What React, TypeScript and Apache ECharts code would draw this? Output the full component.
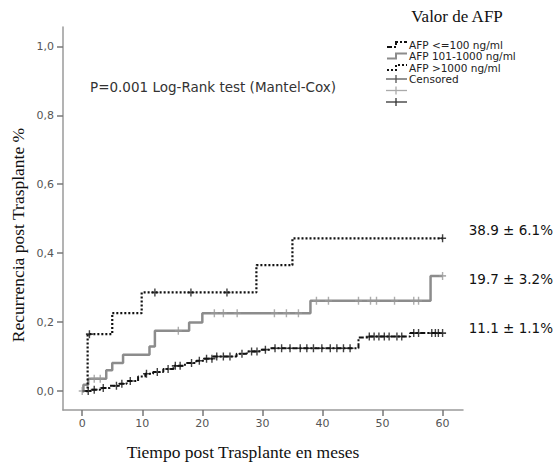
import React, { useEffect, useRef } from "react";
import * as echarts from "echarts";

// Axis ticks
const xTickValues = [0, 10, 20, 30, 40, 50, 60];
const yTickValues = [0, 0.2, 0.4, 0.6, 0.8, 1.0];

// Kaplan-Meier step data (time in months, cumulative recurrence)
const lowTimes = [0, 1.5, 3, 4.6, 6, 7.4, 9.3, 10.5, 11.8, 13.5, 15.2, 17.1, 19, 20.3, 21.8, 25.7, 27.4, 29.5, 31.3, 46, 47.5, 54.6, 60];
const lowValues = [0, 0.004, 0.009, 0.015, 0.021, 0.029, 0.042, 0.05, 0.055, 0.064, 0.073, 0.081, 0.088, 0.094, 0.1, 0.108, 0.115, 0.12, 0.124, 0.155, 0.158, 0.168, 0.168];

const midTimes = [0, 0.2, 1, 4, 5, 6.8, 11.2, 12.1, 17.8, 20, 38, 58, 60];
const midValues = [0, 0.018, 0.036, 0.06, 0.081, 0.105, 0.129, 0.175, 0.199, 0.226, 0.262, 0.334, 0.334];

const highTimes = [0, 0.9, 5, 9.9, 29, 35, 60];
const highValues = [0, 0.165, 0.226, 0.286, 0.365, 0.443, 0.443];

// Censored observation times
const lowCensor = [1, 2, 3.5, 5.7, 6.6, 8, 10.7, 12.5, 14.3, 15.5, 16.3, 18.2, 19.5, 20.7, 21.6, 22.4, 23.5, 24.6, 26.6, 28.2, 29.1, 30.5, 32.1, 33.2, 34.6, 36.3, 37.4, 38.5, 39.9, 41.3, 42.4, 43.5, 44.6, 47.8, 48.6, 49.4, 50.3, 51.1, 52.4, 53.2, 55.2, 56, 58.2, 58.8, 59.3, 60];
const midCensor = [0, 2, 3, 16, 22, 23.5, 25.8, 32, 34, 36, 39, 41, 46, 48, 49, 52, 55.2, 56, 60];
const highCensor = [1.2, 12.1, 18.1, 24.1, 60];

const legendNames = ["AFP <=100 ng/ml", "AFP 101-1000 ng/ml", "AFP >1000 ng/ml", "Censored"];
const endLabels = ["38.9 ± 6.1%", "19.7 ± 3.2%", "11.1 ± 1.1%"];

const pValueText = "P=0.001 Log-Rank test (Mantel-Cox)";
const legendTitle = "Valor de AFP";
const yTitle = "Recurrencia post Trasplante %";
const xTitle = "Tiempo post Trasplante en meses";

const pairs = (t: number[], v: number[]) => t.map((x, i) => [x, v[i]]);
const stepAt = (t: number[], v: number[], x: number) => {
  let val = v[0];
  for (let i = 0; i < t.length; i++) if (t[i] <= x) val = v[i];
  return val;
};
const censorPts = (c: number[], t: number[], v: number[]) => c.map((x) => [x, stepAt(t, v, x)]);

const PLUS = "path://M4,0H6V4H10V6H6V10H4V6H0V4H4Z";
const SANS = "DejaVu Sans";
const SERIF = "Liberation Serif";

export default function App() {
  const ref = useRef<HTMLDivElement>(null);
  useEffect(() => {
    document.body.style.margin = "0";
    const chart = echarts.init(ref.current!, null, { renderer: "svg" });

    const legendRowsY = [44.5, 56, 67.5, 79, 90.5, 102];
    const stepIcon = (y: number, color: string, dash: any, width: number) => ({
      type: "polyline",
      shape: { points: [[387, y + 2.5], [396, y + 2.5], [396, y - 2.5], [407, y - 2.5]] },
      style: { stroke: color, lineWidth: width, lineDash: dash, fill: null },
    });
    const crossIcon = (y: number, color: string) => [
      { type: "line", shape: { x1: 386, y1: y, x2: 407, y2: y }, style: { stroke: color, lineWidth: 1.3 } },
      { type: "line", shape: { x1: 396, y1: y - 4, x2: 396, y2: y + 4 }, style: { stroke: color, lineWidth: 1.3 } },
    ];
    const txt = (text: string, x: number, y: number, size: number, font: string, color: string, align = "left", extra: any = {}) => ({
      type: "text",
      x,
      y,
      ...extra,
      style: {
        text,
        fontSize: size,
        fontFamily: font,
        fill: color,
        align,
        verticalAlign: "middle",
        textAlign: align,
        textVerticalAlign: "middle",
      },
    });

    const graphic: any[] = [
      txt(legendTitle, 457, 16, 17, SERIF, "#111", "center"),
      stepIcon(legendRowsY[0], "#111", [5, 2, 2, 2], 2),
      stepIcon(legendRowsY[1], "#8c8c8c", null, 2),
      stepIcon(legendRowsY[2], "#111", [2, 2], 2),
      ...crossIcon(legendRowsY[3], "#555"),
      ...crossIcon(legendRowsY[4], "#aaa"),
      ...crossIcon(legendRowsY[5], "#333"),
      txt(legendNames[0], 409, legendRowsY[0], 10.5, SANS, "#222"),
      txt(legendNames[1], 409, legendRowsY[1], 10.5, SANS, "#222"),
      txt(legendNames[2], 409, legendRowsY[2], 10.5, SANS, "#222"),
      txt(legendNames[3], 409, legendRowsY[3], 10.5, SANS, "#222"),
      txt(pValueText, 90, 87, 13.5, SANS, "#333"),
      txt(endLabels[0], 553, 230, 13.5, SANS, "#111", "right"),
      txt(endLabels[1], 553, 279, 13.5, SANS, "#111", "right"),
      txt(endLabels[2], 553, 328, 13.5, SANS, "#111", "right"),
      txt(yTitle, 18, 235, 17.5, SERIF, "#111", "center", { rotation: Math.PI / 2 }),
      txt(xTitle, 243, 452, 17.5, SERIF, "#111", "center"),
    ];

    const axisCommon = {
      type: "value",
      splitLine: { show: false },
      axisLine: { show: true, onZero: false, lineStyle: { color: "#9a9a9a", width: 1.5 } },
      axisTick: { show: true, length: 6, lineStyle: { color: "#777", width: 1.5 } },
    };

    chart.setOption({
      animation: false,
      grid: { left: 63, right: 95, top: 27, bottom: 53, containLabel: false },
      xAxis: {
        ...axisCommon,
        min: -3.2,
        max: 63.4,
        axisTick: { ...axisCommon.axisTick, customValues: xTickValues },
        axisLabel: { customValues: xTickValues, margin: 8, fontSize: 11, fontFamily: SANS, color: "#555" },
      },
      yAxis: {
        ...axisCommon,
        min: -0.055,
        max: 1.056,
        axisTick: { ...axisCommon.axisTick, customValues: yTickValues },
        axisLabel: {
          customValues: yTickValues,
          margin: 9,
          fontSize: 11,
          fontFamily: SANS,
          color: "#555",
          formatter: (v: number) => v.toFixed(1).replace(".", ","),
        },
      },
      series: [
        {
          name: legendNames[2],
          type: "line",
          step: "end",
          symbol: "none",
          data: pairs(highTimes, highValues),
          lineStyle: { color: "#111", width: 2.2, type: [2, 2] },
          z: 3,
        },
        {
          name: legendNames[1],
          type: "line",
          step: "end",
          symbol: "none",
          data: pairs(midTimes, midValues),
          lineStyle: { color: "#8c8c8c", width: 2.5, type: "solid" },
          z: 2,
        },
        {
          name: legendNames[0],
          type: "line",
          step: "end",
          symbol: "none",
          data: pairs(lowTimes, lowValues),
          lineStyle: { color: "#111", width: 2, type: [5, 2, 2, 2] },
          z: 4,
        },
        {
          type: "scatter",
          symbol: PLUS,
          symbolSize: [7, 8],
          data: censorPts(highCensor, highTimes, highValues),
          itemStyle: { color: "#111" },
          z: 5,
        },
        {
          type: "scatter",
          symbol: PLUS,
          symbolSize: [7, 8],
          data: censorPts(midCensor, midTimes, midValues),
          itemStyle: { color: "#999" },
          z: 5,
        },
        {
          type: "scatter",
          symbol: PLUS,
          symbolSize: [7, 8],
          data: censorPts(lowCensor, lowTimes, lowValues),
          itemStyle: { color: "#111" },
          z: 6,
        },
      ],
      graphic,
    });
    return () => chart.dispose();
  }, []);
  return <div ref={ref} style={{ width: 558, height: 463 }} />;
}
